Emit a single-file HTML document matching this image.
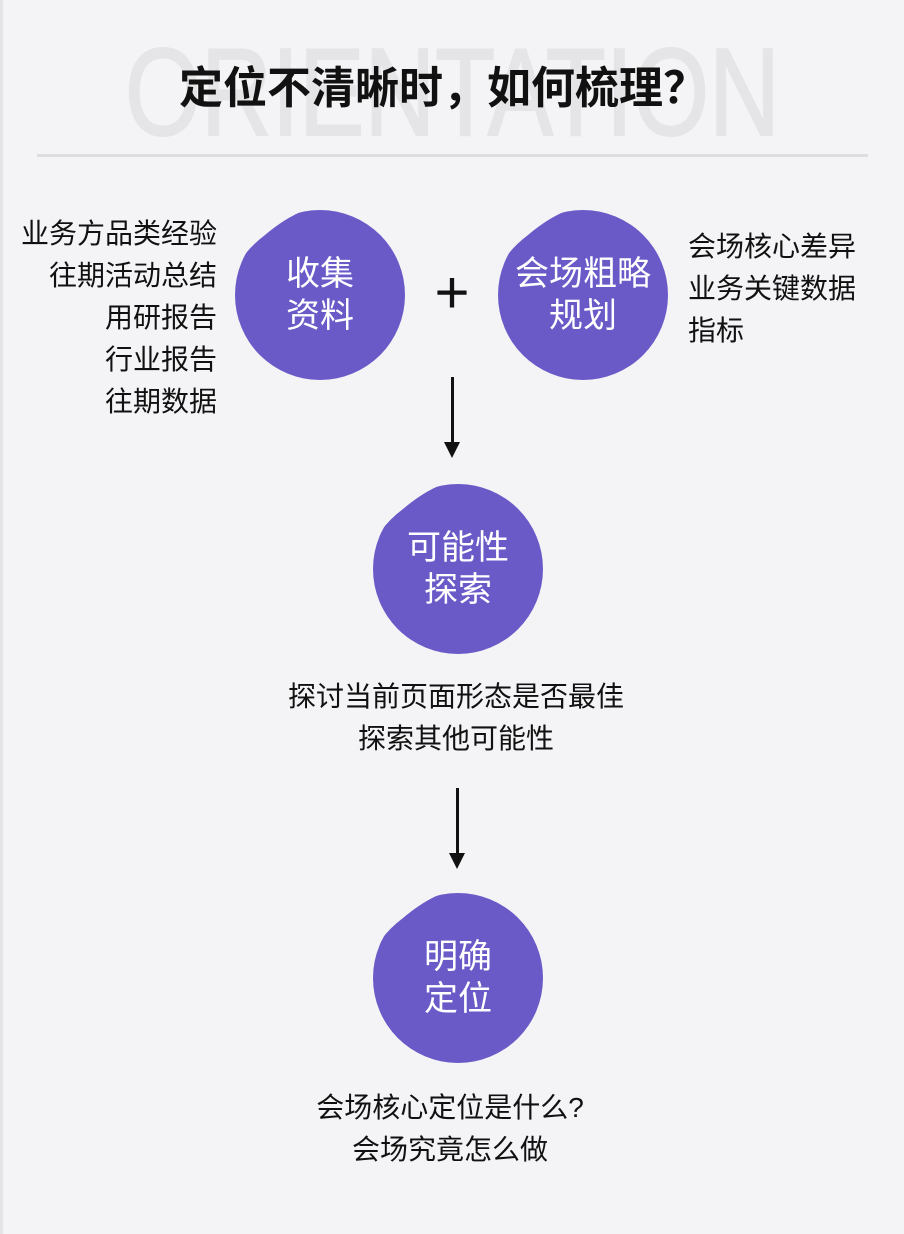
<!DOCTYPE html>
<html><head><meta charset="utf-8"><style>
*{margin:0;padding:0;box-sizing:border-box}
body{width:904px;height:1234px;background:#f4f4f6;position:relative;overflow:hidden;font-family:"Liberation Sans","Noto Sans CJK SC",sans-serif;color:#111}
.a{position:absolute}
.wm{left:0;width:904px;top:28px;text-align:center;font-size:124px;color:#e5e5e8;line-height:130px;font-weight:400;transform:scaleX(0.79);transform-origin:454px 0;-webkit-text-stroke:2px #e5e5e8}
.title{left:0;width:886px;top:62px;text-align:center;font-size:44px;font-weight:700;line-height:54px}
.line{left:37px;width:831px;top:154px;height:3px;background:#dedee0}
.t{font-size:28px;line-height:42px}
.c{width:170px;height:170px}
.ct{width:170px;height:170px;display:flex;align-items:center;justify-content:center;text-align:center;color:#fff;font-size:34px;line-height:42px}
.ar{width:3px;background:#111}
.ah{width:0;height:0;border-left:8px solid transparent;border-right:8px solid transparent;border-top:16px solid #111}
</style></head><body>
<div class="a" style="left:0;top:0;width:3px;height:1234px;background:#e4e4e6"></div>
<div class="a wm">ORIENTATION</div>
<div class="a title">定位不清晰时，如何梳理？</div>
<div class="a line"></div>

<svg width="0" height="0" style="position:absolute"><defs><clipPath id="cp"><path d="M0,60 Q10,40 30,25 Q50,8 70,0 L170,0 L170,170 L0,170 Z"/></clipPath></defs></svg>

<svg class="a c" style="left:235px;top:210px"><circle cx="85" cy="85" r="85" fill="#6a5ac8" clip-path="url(#cp)"/></svg>
<div class="a ct" style="left:235px;top:210px">收集<br>资料</div>
<svg class="a c" style="left:498px;top:210px"><circle cx="85" cy="85" r="85" fill="#6a5ac8" clip-path="url(#cp)"/></svg>
<div class="a ct" style="left:498px;top:210px">会场粗略<br>规划</div>
<svg class="a c" style="left:373px;top:484px"><circle cx="85" cy="85" r="85" fill="#6a5ac8" clip-path="url(#cp)"/></svg>
<div class="a ct" style="left:373px;top:484px">可能性<br>探索</div>
<svg class="a c" style="left:373px;top:893px"><circle cx="85" cy="85" r="85" fill="#6a5ac8" clip-path="url(#cp)"/></svg>
<div class="a ct" style="left:373px;top:893px">明确<br>定位</div>

<div class="a t" style="right:687px;top:213px;text-align:right">业务方品类经验<br>往期活动总结<br>用研报告<br>行业报告<br>往期数据</div>
<div class="a t" style="left:688px;top:226px">会场核心差异<br>业务关键数据<br>指标</div>
<div class="a" style="left:427px;top:258px;font-size:60px;line-height:70px;width:50px;text-align:center">+</div>

<div class="a ar" style="left:451px;top:377px;height:66px"></div>
<div class="a ah" style="left:444px;top:442px"></div>
<div class="a t" style="left:0;width:912px;top:676px;text-align:center">探讨当前页面形态是否最佳<br>探索其他可能性</div>
<div class="a ar" style="left:456px;top:788px;height:66px"></div>
<div class="a ah" style="left:449px;top:853px"></div>
<div class="a t" style="left:0;width:900px;top:1087px;text-align:center">会场核心定位是什么?<br>会场究竟怎么做</div>
</body></html>
